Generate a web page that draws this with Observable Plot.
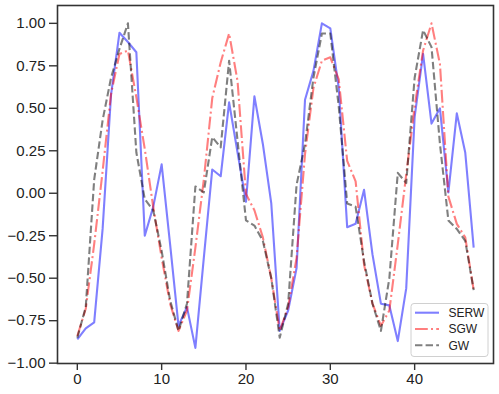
<!DOCTYPE html>
<html>
<head>
<meta charset="utf-8">
<script src="https://cdn.jsdelivr.net/npm/d3@7"></script>
<script src="https://cdn.jsdelivr.net/npm/@observablehq/plot@0.6"></script>
<style>
  html, body { margin: 0; padding: 0; background: #fff; }
  #chart { position: relative; width: 499px; height: 394px; }
</style>
</head>
<body>
<div id="chart"></div>
<script>
const seriesNames = ["SERW", "SGW", "GW"];
const seriesColors = ["rgba(0,0,255,0.5)", "rgba(255,0,0,0.5)", "rgba(0,0,0,0.5)"];
const seriesDash = [null, "12.8,3.2,2,3.2", "7.4,3.2"];

const serw = [-0.86, -0.795, -0.76, -0.21, 0.58, 0.945, 0.89, 0.83, -0.25, -0.08,
  0.17, -0.30, -0.78, -0.67, -0.91, -0.38, 0.14, 0.10, 0.535, 0.24,
  -0.05, 0.57, 0.29, -0.06, -0.81, -0.69, -0.44, 0.55, 0.72, 1.00,
  0.97, 0.62, -0.20, -0.18, 0.02, -0.36, -0.65, -0.66, -0.87, -0.56,
  0.45, 0.82, 0.41, 0.50, 0.005, 0.47, 0.24, -0.32];
const sgw = [-0.84, -0.68, -0.30, 0.13, 0.585, 0.82, 0.84, 0.565, 0.26, -0.08,
  -0.38, -0.65, -0.81, -0.69, -0.32, 0.08, 0.56, 0.77, 0.94, 0.66,
  -0.005, -0.10, -0.26, -0.50, -0.81, -0.67, -0.38, 0.23, 0.62, 0.78,
  0.80, 0.67, 0.19, 0.07, -0.42, -0.65, -0.78, -0.69, -0.30, 0.11,
  0.51, 0.84, 1.00, 0.76, -0.02, -0.18, -0.26, -0.57];
const gw = [-0.85, -0.67, 0.08, 0.43, 0.68, 0.85, 1.00, 0.24, -0.035, -0.10,
  -0.34, -0.63, -0.81, -0.65, 0.04, 0.005, 0.33, 0.27, 0.78, 0.31,
  -0.16, -0.19, -0.28, -0.50, -0.85, -0.65, 0.05, 0.29, 0.68, 0.94,
  0.94, 0.51, -0.06, -0.08, -0.40, -0.65, -0.81, -0.50, 0.12, 0.06,
  0.68, 0.96, 0.86, 0.29, -0.16, -0.21, -0.28, -0.57];

const xTicks = [0, 10, 20, 30, 40];
const yTicks = [-1, -0.75, -0.5, -0.25, 0, 0.25, 0.5, 0.75, 1];

const allSeries = [serw, sgw, gw];
const rows = [];
allSeries.forEach((vals, s) => vals.forEach((v, i) => rows.push({x: i, y: v, s: seriesNames[s]})));

const fontFamily = "Liberation Sans, Arial, sans-serif";

const lineMarks = allSeries.map((vals, s) =>
  Plot.lineY(rows.filter(r => r.s === seriesNames[s]), {
    x: "x", y: "y",
    stroke: seriesColors[s],
    strokeWidth: 2.1,
    strokeDasharray: seriesDash[s] || undefined,
    strokeLinejoin: "round",
    strokeLinecap: "butt"
  })
);

const plot = Plot.plot({
  width: 499,
  height: 394,
  marginLeft: 57,
  marginRight: 6,
  marginTop: 5,
  marginBottom: 31,
  style: { fontFamily, fontSize: "15px", color: "#222", background: "#fff" },
  x: { domain: [-2.35, 49.35], nice: false },
  y: { domain: [-1.002, 1.105], nice: false },
  marks: [
    ...lineMarks,
    Plot.frame({ stroke: "#333", strokeWidth: 1.6 }),
    Plot.axisX({ ticks: xTicks, tickFormat: d => String(d), tickSize: 7, tickPadding: 3,
      stroke: "#333", strokeWidth: 1.4, fill: "#222", fontSize: 15, label: null }),
    Plot.axisY({ ticks: yTicks, tickFormat: d3.format(".2f"), tickSize: 8, tickPadding: 4,
      stroke: "#333", strokeWidth: 1.4, fill: "#222", fontSize: 15, label: null })
  ]
});

document.getElementById("chart").appendChild(plot);

// legend (lower right, inside frame)
const svg = d3.select(plot);
const lg = svg.append("g")
  .attr("font-family", fontFamily)
  .attr("font-size", 12)
  .attr("text-anchor", "start");
lg.append("rect")
  .attr("x", 411).attr("y", 303.5).attr("width", 77).attr("height", 53)
  .attr("rx", 3).attr("fill", "rgba(255,255,255,0.8)")
  .attr("stroke", "#d0d0d0").attr("stroke-width", 1);
const entryY = [312.7, 329, 345.3];
seriesNames.forEach((name, s) => {
  lg.append("line")
    .attr("x1", 415).attr("x2", 439).attr("y1", entryY[s]).attr("y2", entryY[s])
    .attr("stroke", seriesColors[s]).attr("stroke-width", 2.1)
    .attr("stroke-dasharray", seriesDash[s] || null);
  lg.append("text")
    .attr("x", 448.5).attr("y", entryY[s]).attr("dy", "0.35em")
    .attr("text-anchor", "start")
    .attr("fill", "#222").text(name);
});
</script>
</body>
</html>
